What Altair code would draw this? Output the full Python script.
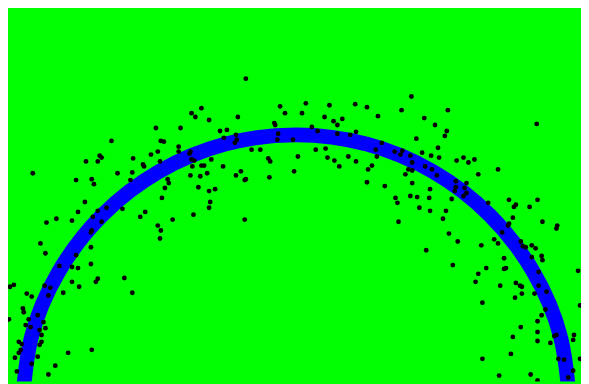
import altair as alt
import pandas as pd

# Scatter points (data units, unit-circle scale)
pts_x = [
    -0.183, -0.058, 0.036, 0.122, -0.381, -0.345, -0.367, -0.317, -0.212, -0.040,
    0.022, 0.104, 0.137, -0.511, -0.421, -0.277, -0.252, -0.079, -0.076, -0.219,
    -0.065, 0.058, 0.079, -0.493, -0.482, -0.263, -0.216, -0.223, -0.068, -0.011,
    -0.428, -0.428, -0.529, -0.504, -0.385, -0.388, -0.162, -0.130, 0.072, 0.108,
    -0.558, -0.554, -0.496, -0.381, -0.371, -0.309, 0.007, -0.101, -0.094, 0.115,
    0.140, -0.378, -0.345, -0.335, -0.266, -0.201, -0.219, -0.007, -0.385, -0.349,
    -0.324, -0.097, -0.183, -0.468, -0.673, -0.716, -0.709, -0.766, -0.723, -0.594,
    -0.960, -0.802, -0.745, -0.737, -0.651, -0.597, -0.604, -0.464, -0.478, -0.356,
    -0.317, -0.295, -0.313, -0.317, -0.187, -0.187, -0.374, -0.450, -0.489, -0.550,
    -0.568, -0.504, -0.493, -0.496, -0.633, -0.691, -0.723, -0.741, -0.709, -0.745,
    -0.748, -0.770, -0.795, -0.817, -0.874, -0.910, -0.932, -0.914, -0.748, -0.802,
    -0.748, -0.863, -0.817, -0.795, -0.817, -0.791, -0.730, -0.723, -0.626, -0.597,
    -0.849, -0.917, -0.896, -0.903, -0.982, -0.964, -1.043, -1.029, -0.996, -0.993,
    -1.047, -0.942, -0.975, -0.921, -0.986, -0.968, -0.914, -0.935, -0.928, -1.011,
    -1.000, -0.928, -0.935, -1.004, -1.011, -1.025, -0.942, -0.964, -1.018, -0.903,
    -0.878, -0.831, -0.745, 0.572, 0.694, 0.665, 0.655, 0.759, 0.759, 0.766,
    0.860, 0.896, 0.899, 1.029, 0.885, 0.745, 0.802, 0.817, 0.824, 0.885,
    0.824, 0.870, 0.914, 0.799, 0.680, 0.910, 0.896, 0.881, 0.820, 0.791,
    0.881, 0.881, 0.942, 0.950, 0.928, 1.014, 1.011, 0.784, 0.680, 0.957,
    0.978, 1.036, 1.011, 0.993, 0.741, 0.856, 0.881, 1.036, 0.421, 0.216,
    0.259, 0.385, 0.554, 0.299, 0.169, 0.151, 0.151, 0.468, 0.507, 0.550,
    0.543, 0.219, 0.198, 0.439, 0.313, 0.518, 0.291, 0.360, 0.388, 0.381,
    0.417, 0.460, 0.493, 0.522, 0.191, 0.295, 0.219, 0.158, 0.424, 0.586,
    0.611, 0.629, 0.651, 0.277, 0.263, 0.471, 0.496, 0.410, 0.424, 0.399,
    0.514, 0.665, 0.259, 0.324, 0.424, 0.583, 0.622, 0.489, 0.583, 0.615,
    0.622, 0.611, 0.363, 0.417, 0.442, 0.486, 0.568, 0.370, 0.701, 0.450,
    0.489, 0.547, 0.536, 0.374, 0.558, 0.590, 0.676, 0.475, 0.878, 0.737,
    0.579, 0.777, 0.881, 0.795, 0.802, 0.852, 0.791, 0.899, 0.777, 0.773,
    0.953, 0.950, 0.752, 0.723, 0.737, 0.820, 0.827, 0.838, 0.860, 0.874,
]
pts_y = [
    1.205, 1.104, 1.115, 1.108, 1.079, 1.097, 1.065, 1.054, 1.065, 1.079,
    1.079, 1.065, 1.050, 1.025, 1.025, 1.014, 1.018, 1.043, 1.036, 1.000,
    1.004, 1.029, 1.014, 0.978, 0.975, 0.989, 0.982, 0.971, 0.982, 0.982,
    0.957, 0.939, 0.928, 0.939, 0.939, 0.932, 0.946, 0.946, 0.946, 0.950,
    0.892, 0.885, 0.903, 0.910, 0.906, 0.910, 0.921, 0.914, 0.903, 0.917,
    0.906, 0.885, 0.888, 0.888, 0.885, 0.867, 0.852, 0.867, 0.852, 0.849,
    0.860, 0.845, 0.838, 0.838, 0.978, 0.924, 0.917, 0.903, 0.903, 0.914,
    0.860, 0.835, 0.838, 0.820, 0.860, 0.863, 0.835, 0.824, 0.806, 0.809,
    0.795, 0.802, 0.755, 0.734, 0.835, 0.691, 0.709, 0.691, 0.770, 0.719,
    0.701, 0.669, 0.651, 0.622, 0.730, 0.734, 0.723, 0.701, 0.683, 0.651,
    0.644, 0.755, 0.719, 0.687, 0.694, 0.680, 0.604, 0.568, 0.590, 0.561,
    0.529, 0.522, 0.518, 0.514, 0.464, 0.446, 0.464, 0.475, 0.478, 0.424,
    0.424, 0.450, 0.442, 0.414, 0.421, 0.410, 0.446, 0.453, 0.367, 0.353,
    0.327, 0.342, 0.327, 0.317, 0.306, 0.299, 0.295, 0.288, 0.270, 0.245,
    0.237, 0.245, 0.234, 0.216, 0.205, 0.187, 0.191, 0.165, 0.137, 0.126,
    0.158, 0.205, 0.216, 0.525, 0.514, 0.493, 0.464, 0.550, 0.511, 0.514,
    0.554, 0.558, 0.543, 0.504, 0.500, 0.450, 0.460, 0.450, 0.446, 0.450,
    0.421, 0.421, 0.428, 0.406, 0.388, 0.363, 0.342, 0.320, 0.299, 0.263,
    0.281, 0.248, 0.266, 0.270, 0.241, 0.270, 0.252, 0.201, 0.183, 0.183,
    0.180, 0.183, 0.140, 0.115, 0.122, 0.126, 0.104, 0.378, 1.140, 1.112,
    1.101, 1.090, 1.090, 1.068, 1.058, 1.036, 1.004, 1.061, 1.036, 1.014,
    0.996, 1.011, 1.000, 0.986, 0.971, 0.953, 0.946, 0.939, 0.942, 0.928,
    0.924, 0.935, 0.924, 0.917, 0.921, 0.921, 0.903, 0.885, 0.899, 0.906,
    0.917, 0.899, 0.910, 0.888, 0.874, 0.885, 0.874, 0.874, 0.870, 0.856,
    0.852, 0.856, 0.827, 0.813, 0.824, 0.831, 0.824, 0.802, 0.809, 0.806,
    0.788, 0.777, 0.770, 0.777, 0.773, 0.770, 0.766, 0.752, 0.752, 0.734,
    0.723, 0.723, 0.694, 0.683, 0.640, 0.611, 0.597, 0.579, 1.040, 0.874,
    0.795, 0.763, 0.763, 0.737, 0.745, 0.737, 0.698, 0.683, 0.676, 0.669,
    0.669, 0.658, 0.644, 0.619, 0.604, 0.611, 0.594, 0.590, 0.597, 0.586,
]

# Semicircular arc
arc_x = [1.000, 0.966, 0.866, 0.707, 0.500, 0.259, 0.000,
         -0.259, -0.500, -0.707, -0.866, -0.966, -1.000]
arc_y = [0.000, 0.259, 0.500, 0.707, 0.866, 0.966, 1.000,
         0.966, 0.866, 0.707, 0.500, 0.259, 0.000]

pts = pd.DataFrame({"x": pts_x, "y": pts_y})
arc = pd.DataFrame({"x": arc_x, "y": arc_y, "order": list(range(len(arc_x)))})

xs = alt.Scale(domain=[-1.0504, 1.0396], nice=False, zero=False)
ys = alt.Scale(domain=[0.1007, 1.4532], nice=False, zero=False)

line = alt.Chart(arc).mark_line(
    color="#0000ff", strokeWidth=15, interpolate="natural", clip=True
).encode(
    x=alt.X("x:Q", scale=xs, axis=None),
    y=alt.Y("y:Q", scale=ys, axis=None),
    order="order:Q",
)

dots = alt.Chart(pts).mark_circle(
    color="black", size=24, opacity=1, clip=True
).encode(
    x=alt.X("x:Q", scale=xs, axis=None),
    y=alt.Y("y:Q", scale=ys, axis=None),
)

chart = alt.layer(line, dots).properties(
    width=581, height=376, padding=0,
    autosize=alt.AutoSizeParams(type="none"),
    background="#00ff00",
).configure_view(fill="#00ff00", stroke=None)

chart.save("out.html", embed_options={"renderer": "svg", "actions": False})
